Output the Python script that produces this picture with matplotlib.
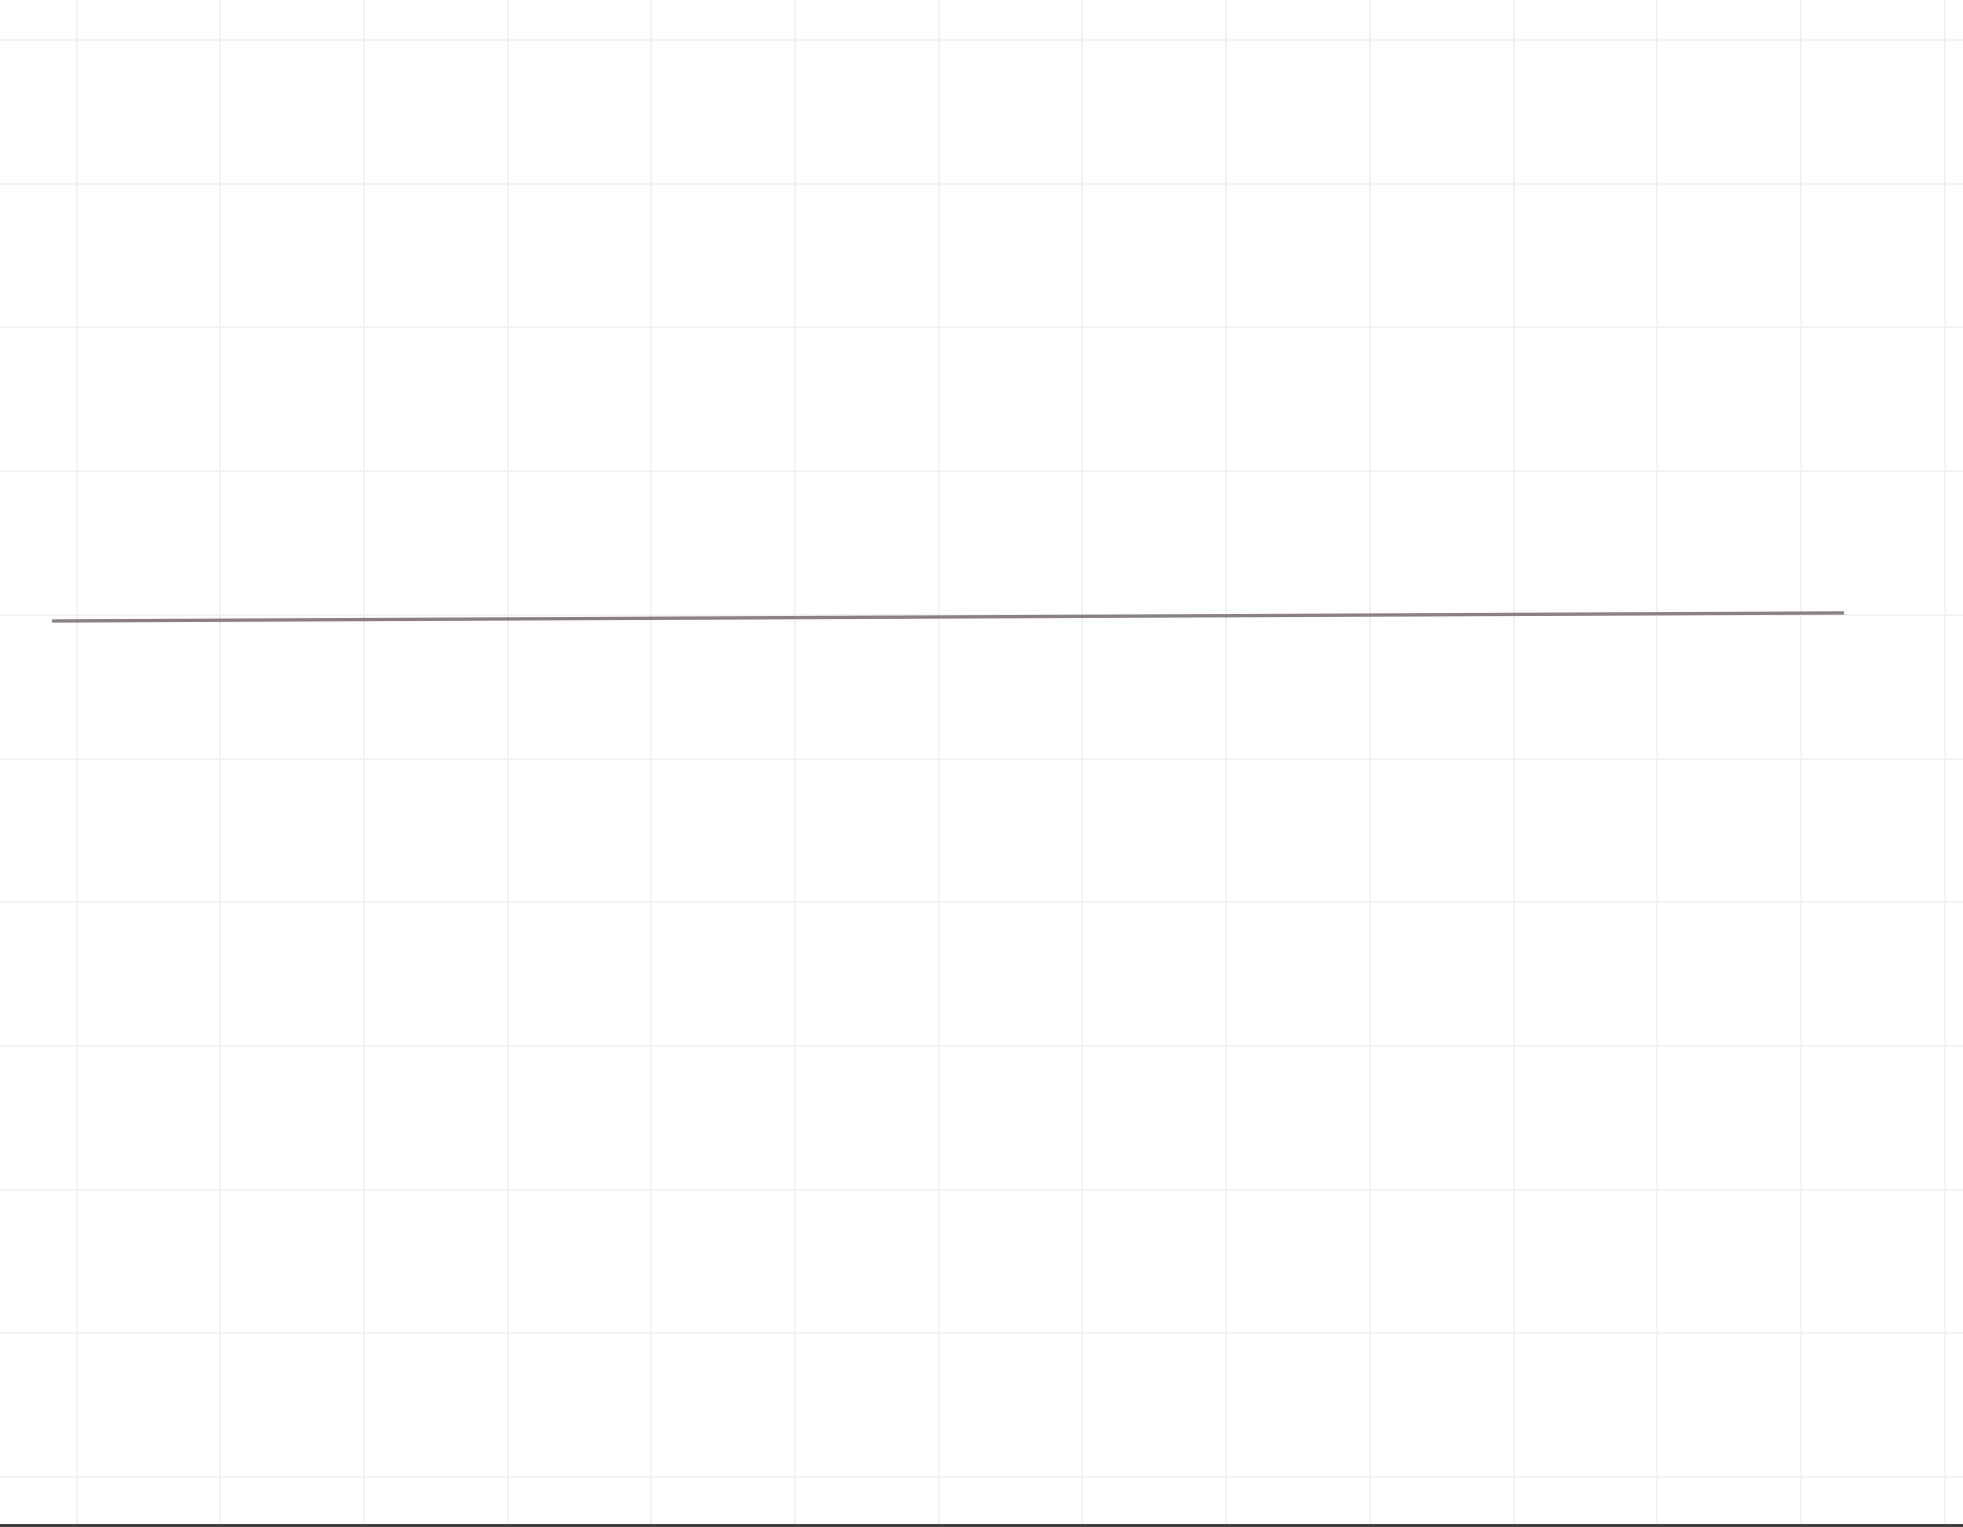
import matplotlib
matplotlib.use("Agg")
import matplotlib.pyplot as plt
import numpy as np

# data
x_values = [-0.17, 12.30]
y_values = [5.957, 6.013]
x_grid = list(range(0, 14))
y_grid = list(range(0, 11))

W, H, DPI = 1963, 1527, 100
S = 143.7  # pixels per unit
fig = plt.figure(figsize=(W / DPI, H / DPI), dpi=DPI)
fig.patch.set_facecolor("white")
ax_h = 1525
ax = fig.add_axes([0, (H - ax_h) / H, 1, ax_h / H])
ax.set_facecolor("white")

ax.plot(x_values, y_values, color="#8a8085", linewidth=2.4,
        solid_capstyle="butt", zorder=3)

ax.set_xlim(-76.5 / S, (W - 76.5) / S)
ax.set_ylim(-(ax_h - 1477) / S, 1477 / S)
ax.set_xticks(x_grid)
ax.set_yticks(y_grid)
ax.grid(True, color="#f0f0f0", linewidth=1.2, zorder=0)
ax.tick_params(length=0, labelbottom=False, labelleft=False)
for s in ["top", "left", "right"]:
    ax.spines[s].set_visible(False)
ax.spines["bottom"].set_color("#333333")
ax.spines["bottom"].set_linewidth(2.0)

fig.savefig("out.png", dpi=DPI, facecolor="white")
